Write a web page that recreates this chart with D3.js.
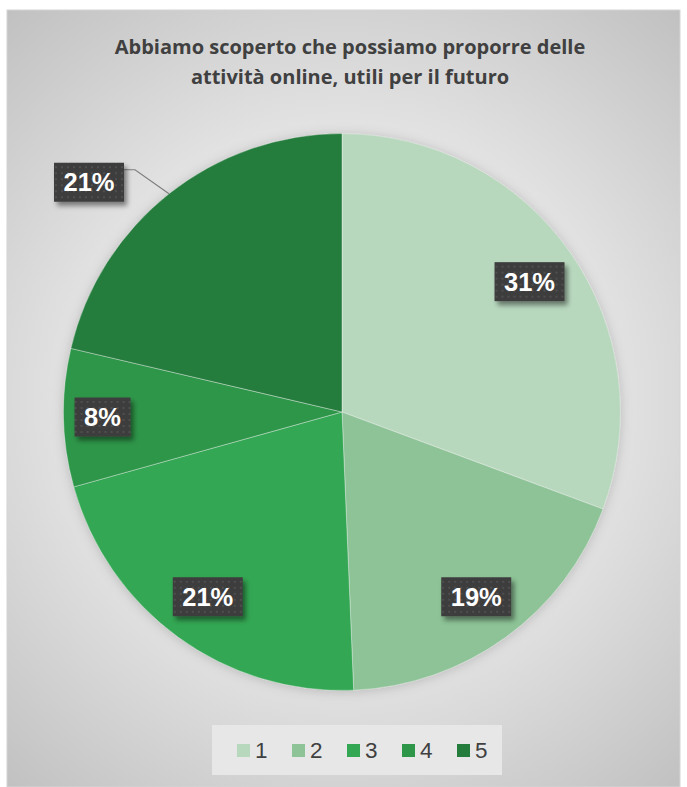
<!DOCTYPE html>
<html>
<head>
<meta charset="utf-8">
<script src="https://cdn.jsdelivr.net/npm/d3@7"></script>
<style>
  html, body { margin: 0; padding: 0; background: #ffffff; }
  svg { display: block; }
</style>
</head>
<body>
<svg id="chart" width="687" height="787"></svg>
<script>
// Responses to "Abbiamo scoperto che possiamo proporre delle attività online, utili per il futuro"
const categories = ["1", "2", "3", "4", "5"];
const counts = [23, 14, 16, 6, 16];
const colors = ["#b8d8be", "#8dc396", "#33a753", "#2e9649", "#257d3d"];
const titleLines = ["Abbiamo scoperto che possiamo proporre delle", "attività online, utili per il futuro"];

const W = 687, H = 787;
const svg = d3.select("#chart");
const defs = svg.append("defs");

// chart area background: soft radial gray
const bg = defs.append("radialGradient")
  .attr("id", "bgGrad").attr("gradientUnits", "userSpaceOnUse")
  .attr("cx", 343).attr("cy", 400).attr("r", 520);
bg.append("stop").attr("offset", "0").attr("stop-color", "#f6f6f6");
bg.append("stop").attr("offset", "0.45").attr("stop-color", "#e8e8e8");
bg.append("stop").attr("offset", "1").attr("stop-color", "#c0c0c0");

// dotted texture for the value callouts
const pat = defs.append("pattern").attr("id", "dots")
  .attr("patternUnits", "userSpaceOnUse").attr("width", 6).attr("height", 6);
pat.append("rect").attr("width", 6).attr("height", 6).attr("fill", "#3d3d3d");
pat.append("circle").attr("cx", 3).attr("cy", 3).attr("r", 0.9).attr("fill", "#575757");

const boxShadow = defs.append("filter").attr("id", "boxShadow")
  .attr("x", "-30%").attr("y", "-30%").attr("width", "170%").attr("height", "190%");
boxShadow.append("feDropShadow").attr("dx", 3).attr("dy", 4)
  .attr("stdDeviation", 2.5).attr("flood-color", "#000").attr("flood-opacity", 0.45);

const pieShadow = defs.append("filter").attr("id", "pieShadow")
  .attr("x", "-20%").attr("y", "-20%").attr("width", "140%").attr("height", "140%");
pieShadow.append("feDropShadow").attr("dx", 0).attr("dy", 1)
  .attr("stdDeviation", 6).attr("flood-color", "#000").attr("flood-opacity", 0.18);

// chart area
svg.append("rect")
  .attr("x", 7).attr("y", 10).attr("width", 673).attr("height", H - 10)
  .attr("fill", "url(#bgGrad)")
  .attr("stroke", "#d4d4d4").attr("stroke-width", 1);

// title
const title = svg.append("text")
  .attr("text-anchor", "middle")
  .attr("font-family", "'Open Sans', 'Liberation Sans', sans-serif")
  .attr("font-weight", "bold").attr("font-size", 20)
  .attr("fill", "#404040");
titleLines.forEach((t, i) => {
  title.append("tspan").attr("x", 350).attr("y", 54 + i * 30).text(t);
});

// pie
const cx = 342, cy = 412, R = 278.5;
const total = d3.sum(counts);
const color = d3.scaleOrdinal().domain(categories).range(colors);
const pie = d3.pie().sort(null).value(d => d.v);
const arcs = pie(categories.map((c, i) => ({ c, v: counts[i] })));
const arc = d3.arc().innerRadius(0).outerRadius(R);

const g = svg.append("g").attr("transform", `translate(${cx},${cy})`);
g.append("circle").attr("r", R).attr("fill", "#bbbbbb").attr("filter", "url(#pieShadow)");
g.selectAll("path.slice").data(arcs).join("path")
  .attr("class", "slice")
  .attr("d", arc)
  .attr("fill", d => color(d.data.c))
  .attr("stroke", "#ffffff").attr("stroke-opacity", 0.45).attr("stroke-width", 0.8);

// value callouts
const pct = d => Math.round(d.data.v / total * 100) + "%";
const boxH = 39;
const boxW = d => (pct(d).length === 2 ? 56 : 70);
const insideArc = d3.arc().innerRadius(R * 0.82).outerRadius(R * 0.82);
const sideArc = d3.arc().innerRadius(R * 0.86).outerRadius(R * 0.86);
const edgeArc = d3.arc().innerRadius(R).outerRadius(R);

arcs.forEach((d, i) => {
  let x, y;
  if (i === arcs.length - 1) {
    // last slice: callout pulled outside with a leader line
    const [ex, ey] = edgeArc.centroid(d);
    const elbow = [ex - 34, ey - 24];
    const bx = elbow[0] - 11 - boxW(d) / 2;
    const by = elbow[1] - 7 + boxH / 2;
    g.append("polyline")
      .attr("points", [[ex, ey], elbow, [elbow[0] - 11, elbow[1]]].map(p => p.join(",")).join(" "))
      .attr("fill", "none").attr("stroke", "#7f7f7f").attr("stroke-width", 1.2);
    x = bx; y = by;
  } else {
    const a = (d.endAngle - d.startAngle) < 0.6 ? sideArc : insideArc;
    [x, y] = a.centroid(d);
  }
  const lg = g.append("g").attr("transform", `translate(${x},${y})`);
  lg.append("rect")
    .attr("x", -boxW(d) / 2).attr("y", -boxH / 2)
    .attr("width", boxW(d)).attr("height", boxH)
    .attr("fill", "url(#dots)").attr("filter", "url(#boxShadow)");
  lg.append("text")
    .attr("text-anchor", "middle").attr("dy", "0.36em")
    .attr("font-family", "'Liberation Sans', Arial, sans-serif")
    .attr("font-weight", "bold").attr("font-size", 25.5)
    .attr("fill", "#ffffff")
    .text(pct(d));
});

// legend
svg.append("rect")
  .attr("x", 212).attr("y", 725).attr("width", 290).attr("height", 50)
  .attr("fill", "#e7e7e7");
const leg = svg.append("g").attr("transform", "translate(237,744)");
const item = leg.selectAll("g").data(categories).join("g")
  .attr("transform", (d, i) => `translate(${i * 55},0)`);
item.append("rect").attr("width", 13).attr("height", 13).attr("fill", d => color(d));
item.append("text")
  .attr("x", 18).attr("y", 13.5)
  .attr("font-family", "'Liberation Sans', Arial, sans-serif")
  .attr("font-size", 22.5).attr("fill", "#404040")
  .text(d => d);
</script>
</body>
</html>
